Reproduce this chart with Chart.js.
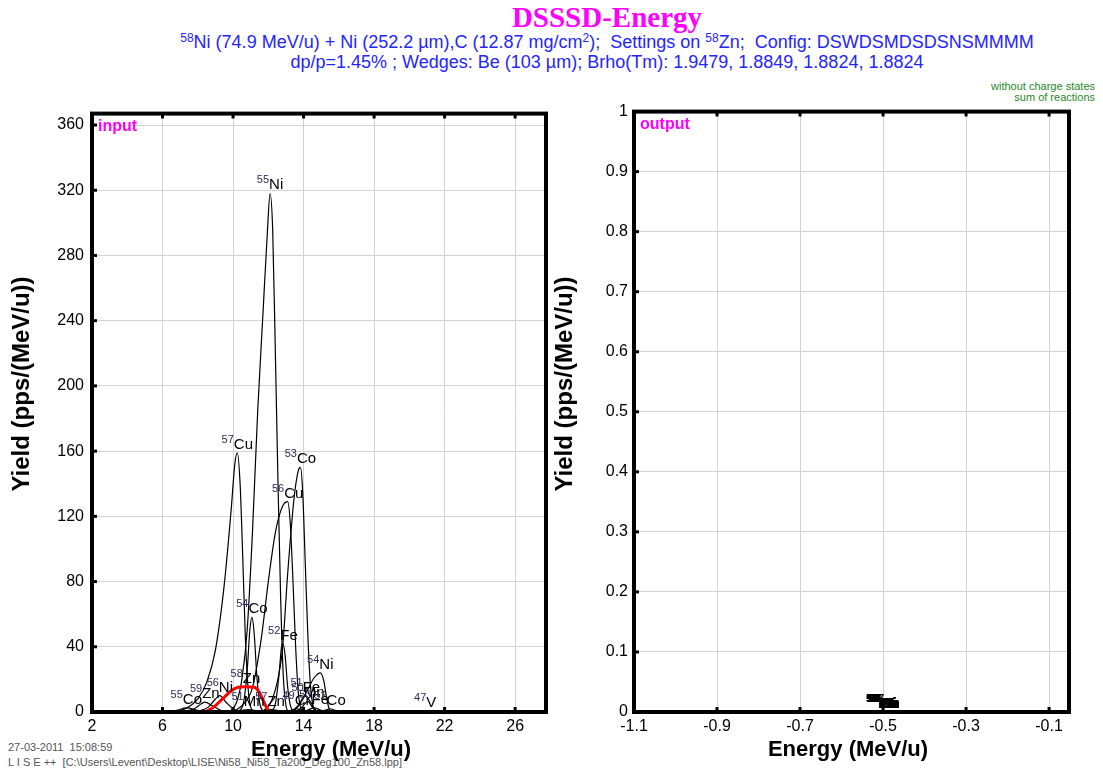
<!DOCTYPE html>
<html>
<head>
<meta charset="utf-8">
<title>DSSSD-Energy</title>
<script src="https://cdn.jsdelivr.net/npm/chart.js@4.4.1/dist/chart.umd.min.js"></script>
<style>
    body { margin: 0; background: #fff; width: 1103px; height: 774px; position: relative; overflow: hidden;
           font-family: "Liberation Sans", Arial, sans-serif; }
    #title { position: absolute; left: 107px; top: 3px; width: 1000px; text-align: center; line-height: 29px;
             font-family: "Liberation Serif", "Times New Roman", serif; font-weight: bold; font-size: 29px; color: #f0f; }
    .sub { position: absolute; left: 107px; width: 1000px; text-align: center; font-size: 18px; line-height: 18px; color: #2424ff; white-space: pre; }
    .sub sup { font-size: 12px; line-height: 0; vertical-align: 6px; }
    .note { position: absolute; right: 8px; font-size: 11px; line-height: 11px; color: #1f8a1f; }
    .foot { position: absolute; left: 8px; font-size: 11px; line-height: 11px; color: #555; white-space: pre; }
    .box { position: absolute; top: 96px; height: 678px; }
</style>
</head>
<body>

<div id="title">DSSSD-Energy</div>
<div class="sub" style="top:33px"><sup>58</sup>Ni (74.9 MeV/u) + Ni (252.2 µm),C (12.87 mg/cm<sup>2</sup>);  Settings on <sup>58</sup>Zn;  Config: DSWDSMDSDSNSMMMM</div>
<div class="sub" style="top:53px">dp/p=1.45% ; Wedges: Be (103 µm); Brho(Tm): 1.9479, 1.8849, 1.8824, 1.8824</div>
<div class="note" style="top:81px">without charge states</div>
<div class="note" style="top:92px">sum of reactions</div>
<div class="foot" style="top:742px">27-03-2011  15:08:59</div>
<div class="foot" style="top:757px">L I S E ++  [C:\Users\Levent\Desktop\LISE\Ni58_Ni58_Ta200_Deg100_Zn58.lpp]</div>

<div class="box" style="left:0; width:560px;"><canvas id="cIn" width="560" height="678"></canvas></div>
<div class="box" style="left:550px; width:553px;"><canvas id="cOut" width="553" height="678"></canvas></div>

<script>
// ---- tick labels
const inTicksX = [2, 6, 10, 14, 18, 22, 26];
const inTicksY = [0, 40, 80, 120, 160, 200, 240, 280, 320, 360];
const outTicksX = [-1.1, -0.9, -0.7, -0.5, -0.3, -0.1];
const outTicksY = [0, 0.1, 0.2, 0.3, 0.4, 0.5, 0.6, 0.7, 0.8, 0.9, 1];

// ---- input spectra: [energy MeV/u, yield pps/(MeV/u)]
const ni55 = [[9.8,0],[10.2,6],[10.5,20],[10.8,50],[11.1,110],[11.4,185],[11.7,245],[11.95,295],[12.1,318],[12.25,295],[12.4,220],[12.55,140],[12.7,70],[12.85,22],[13.0,4],[13.15,0]];
const cu57 = [[6.6,0],[7.3,2],[8.0,8],[8.5,18],[9.0,38],[9.5,78],[9.9,125],[10.1,152],[10.24,159],[10.4,140],[10.55,95],[10.7,45],[10.85,15],[11.0,3],[11.2,0]];
const co53 = [[11.6,0],[12.1,5],[12.5,18],[12.8,38],[13.1,85],[13.45,130],[13.7,148],[13.82,150],[13.95,135],[14.1,90],[14.25,45],[14.4,15],[14.55,3],[14.7,0]];
const cu56 = [[10.0,0],[10.6,5],[11.1,15],[11.6,45],[12.0,80],[12.4,110],[12.8,126],[13.1,129],[13.25,115],[13.4,80],[13.55,40],[13.7,12],[13.85,2],[14.0,0]];
const co54 = [[10.3,0],[10.6,6],[10.8,25],[10.95,50],[11.07,58],[11.2,48],[11.35,22],[11.5,6],[11.7,0]];
const fe52 = [[12.1,0],[12.4,5],[12.6,22],[12.75,40],[12.83,42],[12.95,35],[13.1,15],[13.25,4],[13.45,0]];
const ni54 = [[13.4,0],[13.8,5],[14.2,13],[14.6,21],[14.95,24],[15.15,19],[15.3,9],[15.45,2],[15.6,0]];
const zn58 = [[8.4,0],[8.9,3],[9.4,8],[9.9,13],[10.3,15.2],[10.7,15.5],[11.2,15.2],[11.5,12],[11.75,6],[11.95,2],[12.1,0]];
const ni56 = [[7.8,0],[8.6,3],[9.0,8],[9.25,10],[9.6,6],[10.0,2],[10.4,0]];
const zn59 = [[7.0,0],[7.8,2],[8.2,5],[8.4,6],[8.8,4],[9.3,1],[9.7,0]];
const co55 = [[6.2,0],[6.8,1],[7.35,2.5],[8.0,1],[8.6,0]];
const mn51 = [[10.0,0],[10.5,1],[10.85,1.5],[11.2,1],[11.7,0]];
const zn57 = [[11.3,0],[11.8,1],[12.1,1.5],[12.5,1],[12.9,0]];
const fe51 = [[13.3,0],[13.7,4],[14.1,10],[14.4,6],[14.7,1],[14.9,0]];
const mn50 = [[13.6,0],[13.9,3],[14.25,6.5],[14.5,3],[14.8,0]];
const cr49 = [[13.0,0],[13.3,1],[13.6,2],[13.9,1],[14.2,0]];
const fe53 = [[14.0,0],[14.3,1.5],[14.6,2.5],[14.9,1.5],[15.2,0]];
const co52 = [[14.9,0],[15.2,1],[15.5,2],[15.8,1],[16.1,0]];
const v47 = [[19.8,0],[20.4,0.3],[20.9,0.5],[21.4,0.3],[22.0,0]];

// ---- output: every isotope sits on the same spot
const outPos = [[-0.5, 0]];

const inSpectra = [
    ["55", "Ni", ni55], ["57", "Cu", cu57], ["53", "Co", co53], ["56", "Cu", cu56],
    ["54", "Co", co54], ["52", "Fe", fe52], ["54", "Ni", ni54], ["56", "Ni", ni56],
    ["59", "Zn", zn59], ["55", "Co", co55], ["51", "Mn", mn51], ["57", "Zn", zn57],
    ["51", "Fe", fe51], ["50", "Mn", mn50], ["49", "Cr", cr49], ["53", "Fe", fe53],
    ["52", "Co", co52], ["47", "V", v47]
];

const FONT = "'Liberation Sans', Arial, sans-serif";
const GRID = "#d2d2d2";

function toXY(arr) {
    return arr.map(p => ({ x: p[0], y: p[1] }));
}

// isotope name over the top of each curve
const isoLabels = {
    id: "isoLabels",
    afterDatasetsDraw(chart) {
        const ctx = chart.ctx;
        const xs = chart.scales.x, ys = chart.scales.y;
        ctx.save();
        ctx.textBaseline = "alphabetic";
        chart.data.datasets.forEach(ds => {
            if (!ds.isoSym) return;
            let top = ds.data[0];
            ds.data.forEach(p => { if (p.y > top.y) top = p; });
            const px = xs.getPixelForValue(top.x);
            const py = ys.getPixelForValue(top.y) - 4;
            const bold = ds.isoBold ? "bold " : "";
            ctx.font = bold + "11px " + FONT;
            const wm = ctx.measureText(ds.isoMass).width;
            ctx.font = bold + "15px " + FONT;
            const ws = ctx.measureText(ds.isoSym).width;
            const x0 = px - (wm + ws) / 2;
            ctx.font = bold + "11px " + FONT;
            ctx.fillStyle = ds.isoBold ? "#000" : "#2b2b55";
            ctx.fillText(ds.isoMass, x0, py - 6);
            ctx.font = bold + "15px " + FONT;
            ctx.fillStyle = "#000";
            ctx.fillText(ds.isoSym, x0 + wm, py);
        });
        ctx.restore();
    }
};

// thick frame, tick notches, axis titles and the panel name
const frame = {
    id: "frame",
    afterDraw(chart, args, opts) {
        const ctx = chart.ctx, a = chart.chartArea;
        const xs = chart.scales.x, ys = chart.scales.y;
        ctx.save();
        ctx.strokeStyle = "#000";
        ctx.lineWidth = 3;
        xs.ticks.forEach(t => {
            const x = xs.getPixelForValue(t.value);
            ctx.beginPath();
            ctx.moveTo(x, a.bottom); ctx.lineTo(x, a.bottom - 5);
            ctx.moveTo(x, a.top); ctx.lineTo(x, a.top + 5);
            ctx.stroke();
        });
        ys.ticks.forEach(t => {
            const y = ys.getPixelForValue(t.value);
            ctx.beginPath();
            ctx.moveTo(a.left, y); ctx.lineTo(a.left + 5, y);
            ctx.stroke();
        });
        ctx.lineWidth = 4;
        ctx.strokeRect(a.left, a.top, a.right - a.left, a.bottom - a.top);

        ctx.fillStyle = "#f0f";
        ctx.font = "bold 16px " + FONT;
        ctx.textBaseline = "alphabetic";
        ctx.textAlign = "left";
        ctx.fillText(opts.name, a.left + 6, a.top + 17);

        ctx.fillStyle = "#000";
        ctx.textAlign = "center";
        ctx.textBaseline = "middle";
        ctx.font = "bold 22px " + FONT;
        ctx.fillText("Energy (MeV/u)", opts.xTitle[0], opts.xTitle[1]);
        ctx.translate(opts.yTitle[0], opts.yTitle[1]);
        ctx.rotate(-Math.PI / 2);
        ctx.font = "bold 24px " + FONT;
        ctx.fillText("Yield (pps/(MeV/u))", 0, 0);
        ctx.restore();
    }
};

function axes(cfg) {
    return {
        x: {
            type: "linear", min: cfg.xMin, max: cfg.xMax,
            afterBuildTicks: s => { s.ticks = cfg.ticksX.map(v => ({ value: v })); },
            afterFit: s => { s.height = 62; },
            ticks: { font: { family: FONT, size: 16 }, color: "#000", padding: 5,
                     callback: v => String(Number(v.toFixed(2))) },
            grid: { color: GRID, lineWidth: 1, drawTicks: false },
            border: { display: false },
            title: { display: false }
        },
        y: {
            type: "linear", min: cfg.yMin, max: cfg.yMax,
            afterBuildTicks: s => { s.ticks = cfg.ticksY.map(v => ({ value: v })); },
            afterFit: s => { s.width = cfg.yWidth; },
            ticks: { font: { family: FONT, size: 16 }, color: "#000", padding: cfg.yPad,
                     callback: v => String(Number(v.toFixed(2))) },
            grid: { color: GRID, lineWidth: 1, drawTicks: false },
            border: { display: false },
            title: { display: false }
        }
    };
}

const inDatasets = inSpectra.map(s => ({
    data: toXY(s[2]), isoMass: s[0], isoSym: s[1],
    borderColor: "#000", borderWidth: 1.2, pointRadius: 0, fill: false,
    cubicInterpolationMode: "monotone"
}));
inDatasets.push({
    data: toXY(zn58), isoMass: "58", isoSym: "Zn", order: -1,
    borderColor: "#ff0000", borderWidth: 3, pointRadius: 0, fill: false,
    cubicInterpolationMode: "monotone"
});

new Chart(document.getElementById("cIn"), {
    type: "line",
    data: { datasets: inDatasets },
    options: {
        responsive: false, animation: false, devicePixelRatio: 1,
        layout: { padding: { top: 10, right: 14, left: 0, bottom: 0 } },
        plugins: { legend: { display: false }, tooltip: { enabled: false },
                   frame: { name: "input", xTitle: [331, 654], yTitle: [22, 288] } },
        scales: axes({ xMin: 2, xMax: 27.75, yMin: 0, yMax: 367, ticksX: inTicksX, ticksY: inTicksY,
                       yWidth: 92, yPad: 8 })
    },
    plugins: [isoLabels, frame]
});

const outDatasets = inSpectra.concat([["58", "Zn", zn58]]).map(s => ({
    data: toXY(outPos), isoMass: s[0], isoSym: s[1], isoBold: true,
    showLine: false, pointRadius: 0
}));

new Chart(document.getElementById("cOut"), {
    type: "line",
    data: { datasets: outDatasets },
    options: {
        responsive: false, animation: false, devicePixelRatio: 1,
        layout: { padding: { top: 10, right: 34, left: 0, bottom: 0 } },
        plugins: { legend: { display: false }, tooltip: { enabled: false },
                   frame: { name: "output", xTitle: [298, 654], yTitle: [15, 288] } },
        scales: axes({ xMin: -1.1, xMax: -0.052, yMin: 0, yMax: 1, ticksX: outTicksX, ticksY: outTicksY,
                       yWidth: 84, yPad: 6 })
    },
    plugins: [isoLabels, frame]
});
</script>
</body>
</html>
